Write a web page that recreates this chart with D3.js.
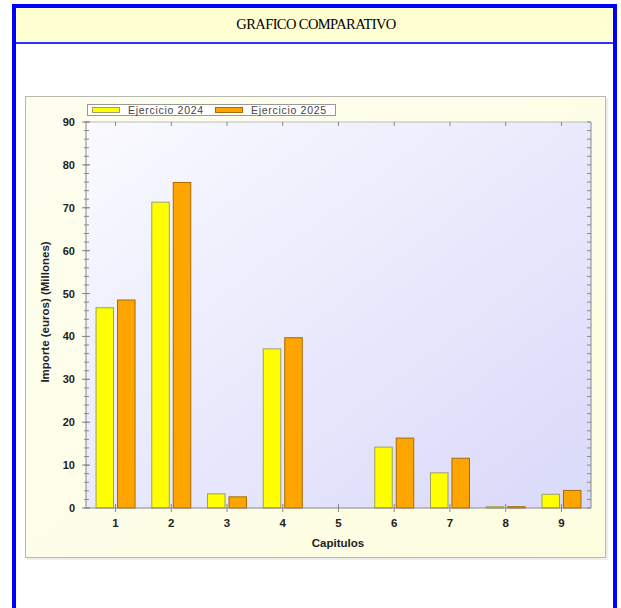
<!DOCTYPE html>
<html>
<head>
<meta charset="utf-8">
<script src="https://cdn.jsdelivr.net/npm/d3@7"></script>
<style>
  body { margin: 0; background: #fff; }
  text { font-family: "Liberation Sans", Arial, sans-serif; }
</style>
</head>
<body>
<svg id="chart" width="621" height="608"></svg>
<script>
// chart data
var capitulos = ["1", "2", "3", "4", "5", "6", "7", "8", "9"];
var ejercicio2024 = [46.7, 71.3, 3.3, 37.1, 0, 14.2, 8.2, 0.3, 3.2];
var ejercicio2025 = [48.5, 75.9, 2.6, 39.7, 0, 16.3, 11.6, 0.3, 4.1];
var seriesNames = ["Ejercicio 2024", "Ejercicio 2025"];
var yTicks = [0, 10, 20, 30, 40, 50, 60, 70, 80, 90];

var svg = d3.select("#chart");
var defs = svg.append("defs");

// gradients for panel and plot area
var gPanel = defs.append("linearGradient").attr("id", "gPanel")
  .attr("x1", "0").attr("y1", "0").attr("x2", "1").attr("y2", "1");
gPanel.append("stop").attr("offset", "0").attr("stop-color", "#fefef0");
gPanel.append("stop").attr("offset", "1").attr("stop-color", "#fdfde0");

var gPlot = defs.append("linearGradient").attr("id", "gPlot")
  .attr("x1", "0").attr("y1", "0").attr("x2", "1").attr("y2", "1");
gPlot.append("stop").attr("offset", "0").attr("stop-color", "#fafaff");
gPlot.append("stop").attr("offset", "1").attr("stop-color", "#d9d9fa");

// outer blue frame + header
svg.append("rect").attr("x", 14).attr("y", 6).attr("width", 601).attr("height", 610)
  .attr("fill", "#fff").attr("stroke", "#0000ff").attr("stroke-width", 4);
svg.append("rect").attr("x", 16).attr("y", 8).attr("width", 597).attr("height", 34)
  .attr("fill", "#ffffd2");
svg.append("line").attr("x1", 16).attr("x2", 613).attr("y1", 43).attr("y2", 43)
  .attr("stroke", "#3333ff").attr("stroke-width", 2);
svg.append("text").attr("x", 316).attr("y", 29).attr("text-anchor", "middle")
  .style("font-family", "'Liberation Serif', 'DejaVu Serif', serif")
  .style("font-size", "14.5px").attr("fill", "#000").attr("letter-spacing", "-0.6")
  .text("GRAFICO COMPARATIVO");

// chart panel
svg.append("rect").attr("x", 27).attr("y", 98).attr("width", 581).attr("height", 462)
  .attr("fill", "#eee");
svg.append("rect").attr("x", 25.5).attr("y", 96.5).attr("width", 580).attr("height", 461)
  .attr("fill", "url(#gPanel)").attr("stroke", "#b8b8b0").attr("stroke-width", 1);

var plot = { left: 86, right: 591, top: 122, bottom: 508 };

var x = d3.scalePoint().domain(capitulos)
  .range([plot.left, plot.right]).padding(0.53);
var y = d3.scaleLinear().domain([0, 90]).range([plot.bottom, plot.top]);

svg.append("rect").attr("x", plot.left).attr("y", plot.top)
  .attr("width", plot.right - plot.left).attr("height", plot.bottom - plot.top)
  .attr("fill", "url(#gPlot)");

// bars
var barW = 17.5, gap = 2;
var rows = capitulos.map(function(c, i) {
  return { cap: c, v1: ejercicio2024[i], v2: ejercicio2025[i] };
});

svg.append("g").selectAll("rect").data(rows).enter().append("rect")
  .attr("x", function(d) { return x(d.cap) - gap - barW; })
  .attr("y", function(d) { return y(d.v1); })
  .attr("width", barW)
  .attr("height", function(d) { return y(0) - y(d.v1); })
  .attr("fill", "#ffff00").attr("stroke", "#a0a060").attr("stroke-width", 1);

svg.append("g").selectAll("rect").data(rows).enter().append("rect")
  .attr("x", function(d) { return x(d.cap) + gap; })
  .attr("y", function(d) { return y(d.v2); })
  .attr("width", barW)
  .attr("height", function(d) { return y(0) - y(d.v2); })
  .attr("fill", "#ffa500").attr("stroke", "#a86a00").attr("stroke-width", 1);

// axes frame lines
var axisColor = "#888";
var frame = svg.append("g").attr("stroke", axisColor).attr("stroke-width", 1);
frame.append("line").attr("x1", plot.left).attr("x2", plot.left)
  .attr("y1", plot.top).attr("y2", plot.bottom);
frame.append("line").attr("x1", plot.right).attr("x2", plot.right)
  .attr("y1", plot.top).attr("y2", plot.bottom);
frame.append("line").attr("x1", plot.left).attr("x2", plot.right)
  .attr("y1", plot.top).attr("y2", plot.top).attr("stroke", "#bbb");
frame.append("line").attr("x1", plot.left).attr("x2", plot.right)
  .attr("y1", plot.bottom).attr("y2", plot.bottom);

// y ticks (major + minor, crossing the axis) and right-side ticks
var minor = d3.range(0, 91, 2);
frame.selectAll(".ymin").data(minor).enter().append("line")
  .attr("x1", plot.left - 2).attr("x2", plot.left + 3)
  .attr("y1", function(d) { return y(d); }).attr("y2", function(d) { return y(d); });
frame.selectAll(".ymaj").data(yTicks).enter().append("line")
  .attr("x1", plot.left - 4).attr("x2", plot.left + 4)
  .attr("y1", function(d) { return y(d); }).attr("y2", function(d) { return y(d); });
frame.selectAll(".rmin").data(minor).enter().append("line")
  .attr("x1", plot.right - 4).attr("x2", plot.right)
  .attr("y1", function(d) { return y(d); }).attr("y2", function(d) { return y(d); });

// x ticks bottom and top
frame.selectAll(".xb").data(capitulos).enter().append("line")
  .attr("x1", function(d) { return x(d); }).attr("x2", function(d) { return x(d); })
  .attr("y1", plot.bottom - 4).attr("y2", plot.bottom + 4);
frame.selectAll(".xt").data(capitulos).enter().append("line")
  .attr("x1", function(d) { return x(d); }).attr("x2", function(d) { return x(d); })
  .attr("y1", plot.top).attr("y2", plot.top + 4);

// tick labels
svg.append("g").selectAll("text").data(yTicks).enter().append("text")
  .attr("x", plot.left - 11).attr("y", function(d) { return y(d) + 4; })
  .attr("text-anchor", "end").style("font-size", "11px").style("font-weight", "bold")
  .attr("fill", "#222").text(function(d) { return d; });

svg.append("g").selectAll("text").data(capitulos).enter().append("text")
  .attr("x", function(d) { return x(d); }).attr("y", 527)
  .attr("text-anchor", "middle").style("font-size", "11.5px").style("font-weight", "bold")
  .attr("fill", "#222").text(function(d) { return d; });

// axis titles
svg.append("text").attr("x", 338).attr("y", 547).attr("text-anchor", "middle")
  .style("font-size", "11.5px").style("font-weight", "bold").attr("fill", "#222")
  .text("Capitulos");
svg.append("text").attr("transform", "translate(49,312) rotate(-90)")
  .attr("text-anchor", "middle").style("font-size", "11.5px").style("font-weight", "bold")
  .attr("fill", "#222").text("Importe (euros) (Millones)");

// legend
var legend = svg.append("g");
legend.append("rect").attr("x", 87.5).attr("y", 104.5).attr("width", 248).attr("height", 11)
  .attr("fill", "#fff").attr("stroke", "#999");
var colors = ["#ffff00", "#ffa500"];
var strokes = ["#a0a060", "#a86a00"];
var lx = d3.scaleOrdinal().domain(seriesNames).range([92, 215]);
seriesNames.forEach(function(n, i) {
  legend.append("rect").attr("x", lx(n) + 0.5).attr("y", 107.5).attr("width", 27).attr("height", 5)
    .attr("fill", colors[i]).attr("stroke", strokes[i]);
  legend.append("text").attr("x", lx(n) + 36).attr("y", 114)
    .style("font-size", "10.5px").attr("letter-spacing", "0.7").attr("fill", "#444").text(n);
});
</script>
</body>
</html>
